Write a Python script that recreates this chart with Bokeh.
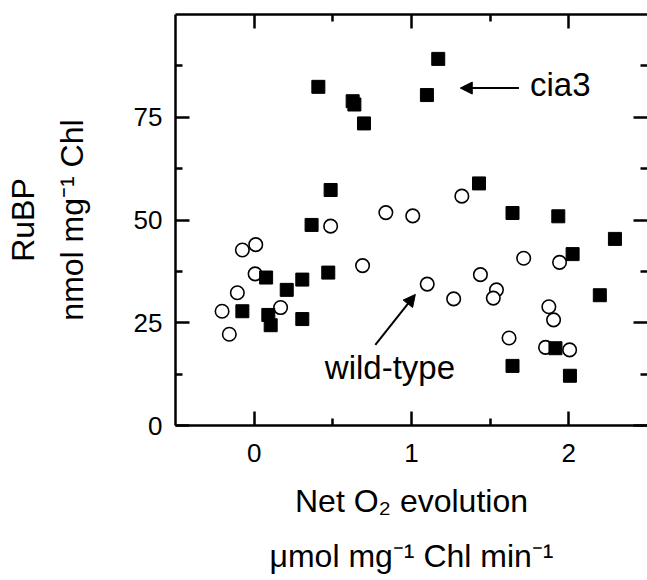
from bokeh.plotting import figure
from bokeh.models import (LinearAxis, FixedTicker, Label, Arrow, NormalHead,
                          ColumnDataSource, Range1d)
from bokeh.embed import file_html
from bokeh.resources import INLINE

# ---- data ----
cia3_x = [-0.075, 0.090, 0.105, 0.076, 0.207, 0.306, 0.306, 0.471, 0.365, 0.486,
          0.408, 0.626, 0.637, 0.698, 1.170, 1.098, 1.429, 1.642, 1.933, 2.293,
          2.024, 2.197, 1.915, 1.642, 2.007]
cia3_y = [27.8, 26.9, 24.4, 36.0, 33.0, 35.5, 25.9, 37.2, 48.8, 57.3,
          82.4, 78.9, 78.1, 73.5, 89.2, 80.4, 58.9, 51.7, 50.9, 45.4,
          41.7, 31.7, 18.8, 14.5, 12.1]

wt_x = [-0.204, -0.158, -0.107, -0.075, 0.010, 0.006, 0.168, 0.689, 0.486, 0.837,
        1.008, 1.320, 1.100, 1.268, 1.438, 1.540, 1.520, 1.713, 1.941, 1.873,
        1.903, 1.620, 1.852, 2.005]
wt_y = [27.8, 22.2, 32.3, 42.7, 44.0, 36.9, 28.7, 38.9, 48.5, 51.8,
        51.0, 55.8, 34.4, 30.8, 36.7, 33.0, 31.0, 40.7, 39.7, 28.9,
        25.7, 21.3, 19.0, 18.4]

x_major = [0, 1, 2]
x_minor = [0.5, 1.5]
y_major = [0, 25, 50, 75]
y_minor = [12.5, 37.5, 62.5, 87.5]
x_tick_labels = ["0", "1", "2"]
y_tick_labels = ["0", "25", "50", "75"]

x_title_lines = ["Net O\u2082 evolution", "\u03bcmol mg\u207b\u00b9 Chl min\u207b\u00b9"]
y_title_lines = ["RuBP", "nmol mg\u207b\u00b9 Chl"]

FONT = "Liberation Sans"
PXY = 4.11     # px per y unit
MID = 0.3465   # em offset of text middle above baseline
MAJOR_LEN, MINOR_LEN, LINE_W = 14, 7, 2.5
TICK = 26
TITLE = 32

p = figure(width=647, height=580,
           x_range=Range1d(-0.5, 2.5), y_range=Range1d(0, 100),
           output_backend="svg", toolbar_location=None,
           x_axis_location=None, y_axis_location=None,
           min_border_left=175, min_border_right=0, min_border_bottom=155,
           min_border_top=14)
p.grid.visible = False
p.outline_line_color = None
p.background_fill_color = "white"
p.border_fill_color = "white"

bottom = LinearAxis(ticker=FixedTicker(ticks=x_major, minor_ticks=x_minor),
                    major_label_overrides=dict(zip(x_major, x_tick_labels)))
left = LinearAxis(ticker=FixedTicker(ticks=y_major, minor_ticks=y_minor),
                  major_label_overrides=dict(zip(y_major, y_tick_labels)))
top = LinearAxis(ticker=FixedTicker(ticks=x_major, minor_ticks=x_minor))
right = LinearAxis(ticker=FixedTicker(ticks=y_major, minor_ticks=y_minor))
p.add_layout(bottom, "below")
p.add_layout(left, "left")
p.add_layout(top, "above")
p.add_layout(right, "right")

for ax in [bottom, left, top, right]:
    ax.axis_line_width = LINE_W
    ax.axis_line_color = "black"
    ax.major_tick_in = MAJOR_LEN
    ax.major_tick_out = 0
    ax.minor_tick_in = MINOR_LEN
    ax.minor_tick_out = 0
    ax.major_tick_line_width = LINE_W
    ax.minor_tick_line_width = LINE_W
    ax.major_tick_line_color = "black"
    ax.minor_tick_line_color = "black"
    ax.major_label_text_font = FONT
    ax.major_label_text_color = "black"
    ax.major_label_text_font_size = f"{TICK}px"

bottom.major_label_standoff = 18
left.major_label_standoff = 13
for ax in [top, right]:
    ax.major_label_standoff = 0
    ax.major_label_text_color = None
    ax.major_label_text_font_size = "0px"
right.axis_line_color = None

# title-only axes stacked outside the tick-label axes
def title_axis(text, standoff, side):
    ax = LinearAxis(ticker=FixedTicker(ticks=[], minor_ticks=[]),
                    axis_label=text, axis_label_standoff=standoff,
                    axis_label_text_font=FONT,
                    axis_label_text_font_size=f"{TITLE}px",
                    axis_label_text_font_style="normal",
                    axis_label_text_color="black",
                    axis_line_color=None, major_tick_line_color=None,
                    minor_tick_line_color=None, major_tick_out=0,
                    minor_tick_out=0, major_tick_in=0, minor_tick_in=0,
                    major_label_standoff=0, major_label_text_font_size="0px",
                    major_label_text_color=None)
    p.add_layout(ax, side)

title_axis(x_title_lines[0], 18, "below")
title_axis(x_title_lines[1], 16, "below")
title_axis(y_title_lines[1], 41, "left")
title_axis(y_title_lines[0], 10, "left")

# ---- markers ----
wt_src = ColumnDataSource(dict(x=wt_x, y=wt_y))
cia_src = ColumnDataSource(dict(x=cia3_x, y=cia3_y))
p.scatter("x", "y", source=wt_src, marker="circle", size=13.5,
          fill_color="white", line_color="black", line_width=1.6)
p.scatter("x", "y", source=cia_src, marker="square", size=13,
          fill_color="black", line_color="black", line_width=1)

def hlab(x, base_px, t, size):
    # base_px: baseline position in screen px from the top of the canvas
    y = (425.0 - (base_px - MID * size)) / PXY
    p.add_layout(Label(x=x, y=y, text=t, text_font=FONT,
                       text_font_size=f"{size}px", text_color="black",
                       text_align="left", text_baseline="middle"))

# ---- annotations ----
p.add_layout(Arrow(end=NormalHead(size=12, fill_color="black", line_color="black"),
                   x_start=1.683, y_start=82.1, x_end=1.310, y_end=82.1,
                   line_width=2, line_color="black"))
p.add_layout(Arrow(end=NormalHead(size=12, fill_color="black", line_color="black"),
                   x_start=0.770, y_start=19.6, x_end=1.0245, y_end=31.9,
                   line_width=2, line_color="black"))

hlab(1.7534, 95.5, "cia3", 33)
hlab(0.4493, 378.5, "wild-type", 33)

open("out.html", "w").write(file_html(p, INLINE))
